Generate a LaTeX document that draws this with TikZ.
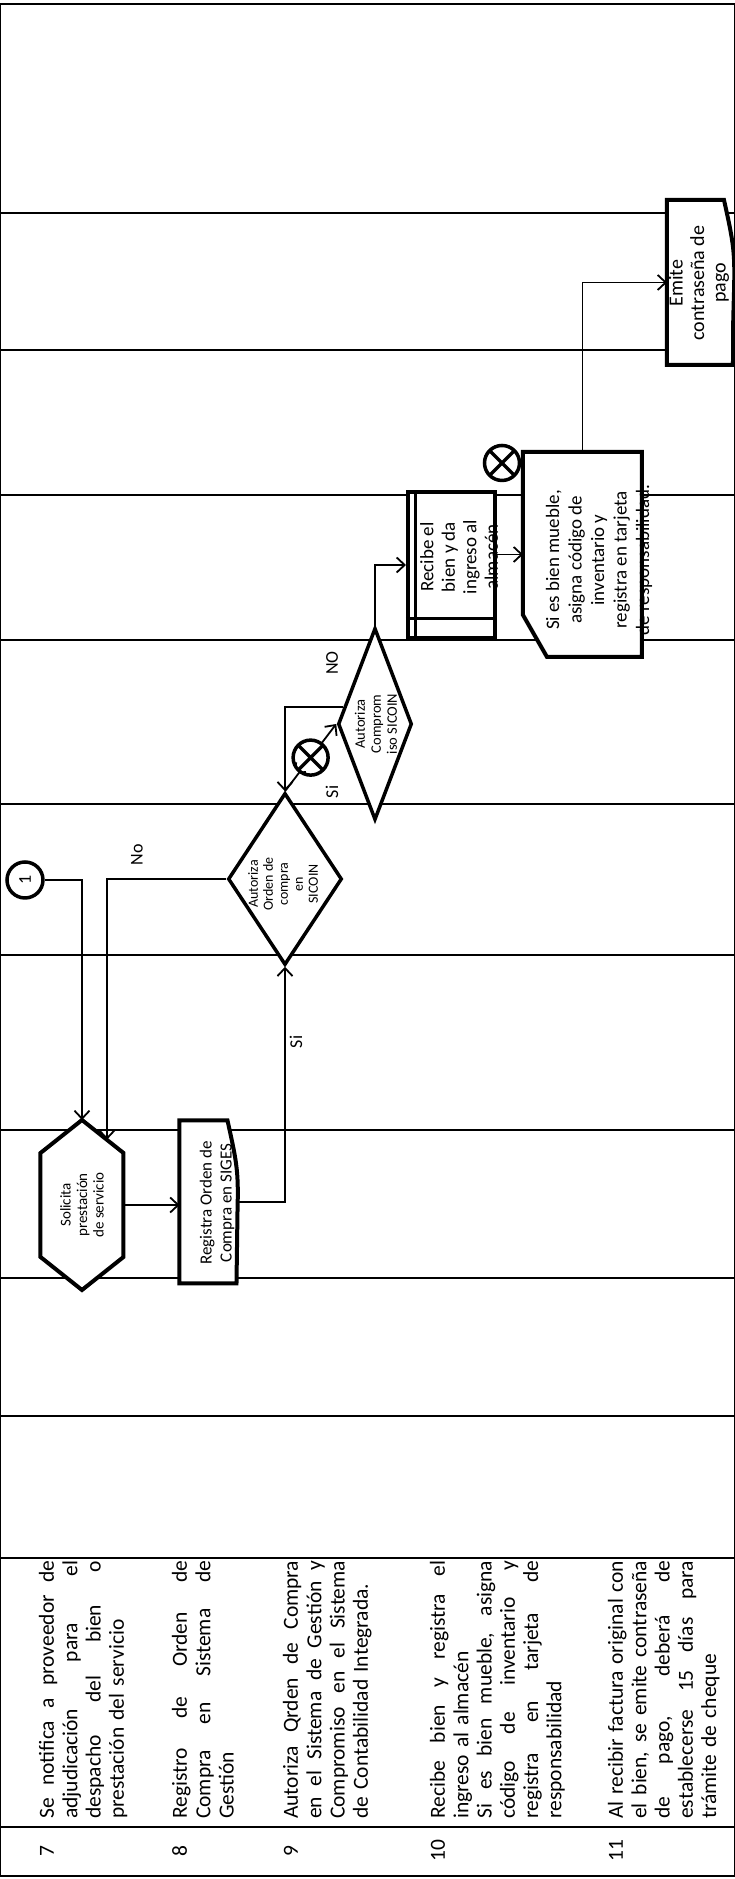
\documentclass[tikz,border=0pt]{standalone}
\usepackage{fontspec}
\setmainfont{Carlito}
\usetikzlibrary{arrows.meta,shapes.geometric,calc}

\newcommand{\linea}[1]{{\spaceskip=0pt\xspaceskip=0pt\makebox[258pt][s]{#1}}}
\newcommand{\tam}[2]{\fontsize{#1}{#2}\selectfont}
% hoja con borde ondulado abajo
\newcommand{\hojadoc}[1]{\filldraw[forma] (#1.south west) -- (#1.north west) -- (#1.north east) -- ($(#1.south east)+(0,9)$)
  .. controls ($(#1.south east)+(-45,-1)$) and ($(#1.south)+(30,-2)$) .. ($(#1.south)+(-10,-1)$)
  .. controls ($(#1.south)+(-45,0)$) .. (#1.south west) -- cycle;}

\tikzset{
  carril/.style={line width=2.4pt},
  forma/.style={draw, fill=white, line width=4pt},
  hueco/.style={inner sep=0pt, outer sep=0pt},
  decision/.style={diamond, forma, line width=3.5pt, inner sep=0pt},
  flecha/.style={line width=1.8pt, -{Straight Barb[length=8pt,width=15pt]}},
  cruce/.style={circle, forma, line width=3.5pt, minimum size=35pt, inner sep=0pt,
    path picture={\draw[line width=3.5pt]
      (path picture bounding box.north west) -- (path picture bounding box.south east)
      (path picture bounding box.north east) -- (path picture bounding box.south west);}},
  paso/.style={anchor=base west, inner sep=0pt, text width=258pt, align=left, font=\tam{21.5}{23.3}},
  numero/.style={anchor=base, inner sep=0pt, font=\tam{21.5}{23.3}},
  etiqueta/.style={inner sep=0pt, font=\tam{18}{20}}
}

\begin{document}
\begin{tikzpicture}[x=1pt, y=1pt, rotate=90, transform shape]
\useasboundingbox (0,0) rectangle (1879,735);

% marco y carriles
\draw[carril] (3,0) rectangle (1875,735);
\foreach \x in {52,321,463,601,749,924,1075,1239,1384,1529,1666}
  \draw[carril] (\x,0) -- (\x,735);

% columna de pasos
\node[numero] (n7) at (28,681) {7};
\node[paso] (p7) at (60,681) {\linea{Se notifica a proveedor de}\\\linea{adjudicación para el}\\\linea{despacho del bien o}\\prestación del servicio};
\node[numero] (n8) at (28,548) {8};
\node[paso] (p8) at (60,548) {\linea{Registro de Orden de}\\\linea{Compra en Sistema de}\\Gestión};
\node[numero] (n9) at (28,437) {9};
\node[paso] (p9) at (60,437) {\linea{Autoriza Qrden de Compra}\\\linea{en el Sistema de Gestión y}\\\linea{Compromiso en el Sistema}\\de Contabilidad Integrada.};
\node[numero] (n10) at (28,290) {10};
\node[paso] (p10) at (60,290) {\linea{Recibe bien y registra el}\\ingreso al almacén\\\linea{Si es bien mueble, asigna}\\\linea{código de inventario y}\\\linea{registra en tarjeta de}\\responsabilidad};
\node[numero] (n11) at (28,112) {11};
\node[paso] (p11) at (60,112) {\linea{Al recibir factura original con}\\\linea{el bien, se emite contraseña}\\\linea{de pago, deberá de}\\\linea{establecerse 15 días para}\\trámite de cheque};

% Solicita prestacion
\node[hueco, minimum width=104pt, minimum height=83pt] (sol) at (674,653) {};
\coordinate (sol-e) at ($(sol.east)+(33,0)$);
\coordinate (sol-w) at ($(sol.west)+(-33,0)$);
\filldraw[forma] (sol.north west) -- (sol.north east) -- (sol-e) -- (sol.south east) -- (sol.south west) -- (sol-w) -- cycle;
\node[font=\tam{15}{16.5}, align=center] (sol-t) at (sol) {Solicita\\prestación\\de servicio};

% Registra orden
\node[hueco, minimum width=163pt, minimum height=57pt] (reg) at (677,527) {};
\hojadoc{reg}
\node[font=\tam{17}{20}, align=center] (reg-t) at (676,518) {Registra Orden de\\Compra en SIGES};

% decisiones
\node[decision, minimum width=172pt, minimum height=114pt] (d1) at (1000,450) {};
\node[font=\tam{14}{15}, align=center] (d1-t) at (995,452) {Autoriza\\Orden de\\compra\\en\\SICOIN};
\node[decision, minimum width=192pt, minimum height=74pt] (d2) at (1155,360) {};
\node[font=\tam{14.5}{16}, align=center] (d2-t) at (1155,359) {Autoriza\\Comprom\\iso SICOIN};

% Recibe el bien
\node[forma, minimum width=146pt, minimum height=87pt, inner sep=0pt] (rec) at (1314,283.5) {};
\draw[line width=3pt] ($(rec.north west)+(0,-10)$) -- ($(rec.north east)+(0,-10)$);
\draw[line width=3pt] ($(rec.north west)+(21,0)$) -- ($(rec.south west)+(21,0)$);
\node[font=\tam{19}{21.5}, align=center] (rec-t) at (1322,276) {Recibe el\\bien y da\\ingreso al\\almacén};

% Si es bien mueble
\node[hueco, minimum width=205pt, minimum height=119pt] (sies) at (1324.5,152.5) {};
\filldraw[forma] ($(sies.north west)+(42,0)$) -- (sies.north east) -- (sies.south east) -- (sies.south west) -- ($(sies.north west)+(0,-24)$) -- cycle;
\node[font=\tam{19}{22.5}, align=center] (sies-t) at (1319,136) {Si es bien mueble,\\asigna código de\\inventario y\\registra en tarjeta\\de responsabilidad.};

% Emite contrasena
\node[hueco, minimum width=165pt, minimum height=66pt] (emi) at (1596.5,35) {};
\hojadoc{emi}
\node[font=\tam{20}{21.5}, align=center] (emi-t) at (1596,36) {Emite\\contraseña de\\pago};

% conector 1
\node[circle, forma, line width=3.5pt, minimum size=36pt, inner sep=0pt, font=\tam{18}{20}] (c1) at (999,710) {1};

% flechas
\coordinate (sol-se) at ($(sol-e)!0.6!(sol.south east)$);
\draw[flecha] (c1.south) |- (sol-e);
\draw[flecha] (d1.north) |- (sol-se);
\draw[flecha] (sol.south) -- (sol.south |- reg.north);
\draw[flecha] (reg.south) |- (d1.west);
\draw[flecha] (d1.east) -- node[cruce, pos=.5] (x1) {} (d2.north);
\draw[flecha] ($(d2.north)!.17!(d2.east)$) |- (d1.east);
\draw[flecha] (d2.east) -| (rec.north);
\draw[flecha] (rec.south -| sies.north) -- (sies.north);
\draw[flecha] (sies.east) -| (emi.north);
\node[cruce] (x2) at (1416,233) {};

% rotulos
\node[etiqueta] (l-no1) at (1024,598) {No};
\node[etiqueta] (l-si1) at (837,439) {Si};
\node[etiqueta] (l-si2) at (1087,403) {Si};
\node[etiqueta] (l-no2) at (1216,403) {NO};
\end{tikzpicture}
\end{document}
